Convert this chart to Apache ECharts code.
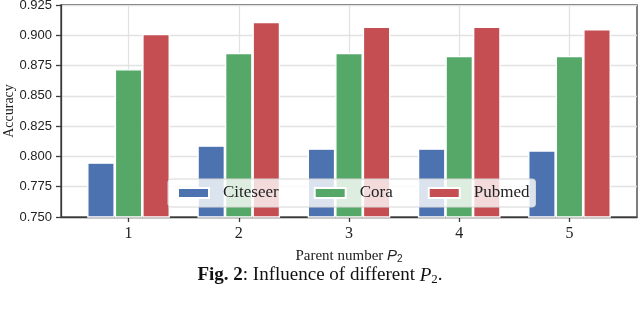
<!DOCTYPE html>
<html>
<head>
<meta charset="utf-8">
<script src="https://cdn.jsdelivr.net/npm/echarts@6/dist/echarts.min.js"></script>
<style>
  html, body { margin: 0; padding: 0; background: #fff; }
  #chart { width: 640px; height: 326px; }
</style>
</head>
<body>
<div id="chart"></div>
<script>
// data
const groups = [1, 2, 3, 4, 5];
const citeseer = [0.795, 0.809, 0.8065, 0.8065, 0.805];
const cora = [0.872, 0.8855, 0.8855, 0.883, 0.883];
const pubmed = [0.901, 0.911, 0.907, 0.907, 0.905];
const yTicks = [0.750, 0.775, 0.800, 0.825, 0.850, 0.875, 0.900, 0.925];

// bar offset from the group centre, in x units
const offset = 0.25;
const serif = '"Liberation Serif", "DejaVu Serif", serif';
const sans = '"Liberation Sans", Arial, sans-serif';

const chart = echarts.init(document.getElementById('chart'), null, { renderer: 'canvas' });

function place(values, shift) {
  return values.map((v, i) => [groups[i] + shift, v]);
}

function barSeries(name, values, shift, color) {
  return {
    name,
    type: 'bar',
    data: place(values, shift),
    barWidth: 27.5,
    barGap: '-100%',
    itemStyle: { color, borderColor: '#fff', borderWidth: 1.3 },
    z: 2,
  };
}

chart.setOption({
  animation: false,
  backgroundColor: '#fff',
  grid: {
    left: 61, right: 3, top: 5, bottom: 109,
    outerBoundsMode: 'none',
    containLabel: false,
    show: true, borderColor: '#3a3a3a', borderWidth: 1.3,
  },
  legend: {
    left: 168, top: 179,
    padding: [5, 6, 5, 9],
    itemGap: 35,
    itemWidth: 31, itemHeight: 10,
    backgroundColor: 'rgba(255,255,255,0.8)',
    borderColor: '#d6d6d6', borderWidth: 1, borderRadius: 3,
    icon: 'rect',
    textStyle: { fontFamily: serif, fontSize: 17, color: '#222', padding: [0, 0, 0, 9], lineHeight: 18 },
    data: ['Citeseer', 'Cora', 'Pubmed'],
    z: 10,
  },
  xAxis: {
    type: 'value',
    min: 0.3875, max: 5.6125,
    name: '{a|Parent number }{i|P}{s|2}',
    nameLocation: 'middle',
    nameGap: 31,
    nameTextStyle: {
      rich: {
        a: { fontFamily: serif, fontSize: 15, color: '#222' },
        i: { fontFamily: sans, fontStyle: 'italic', fontSize: 15, color: '#222' },
        s: { fontFamily: sans, fontSize: 10, color: '#222', verticalAlign: 'bottom', padding: [6, 0, 0, 0] },
      },
    },
    axisLine: { show: true, lineStyle: { color: '#3a3a3a', width: 1.3 } },
    axisTick: { show: true, length: 5, customValues: groups, lineStyle: { color: '#3a3a3a', width: 1.3 } },
    axisLabel: { customValues: groups, fontFamily: serif, fontSize: 16, color: '#222', margin: 9 },
    splitLine: { show: true, lineStyle: { color: '#e2e2e2', width: 1.3 } },
  },
  yAxis: {
    type: 'value',
    min: yTicks[0], max: yTicks[yTicks.length - 1], interval: 0.025,
    name: 'Accuracy',
    nameLocation: 'middle',
    nameGap: 45,
    nameMoveOverlap: false,
    nameTextStyle: { fontFamily: serif, fontSize: 14, color: '#222' },
    axisLine: { show: true, lineStyle: { color: '#3a3a3a', width: 1.3 } },
    axisTick: { show: true, length: 5, lineStyle: { color: '#3a3a3a', width: 1.3 } },
    axisLabel: { fontFamily: sans, fontSize: 13, color: '#222', margin: 9, formatter: v => v.toFixed(3) },
    splitLine: { show: true, lineStyle: { color: '#e2e2e2', width: 1.3 } },
  },
  series: [
    barSeries('Citeseer', citeseer, -offset, '#4c72b0'),
    barSeries('Cora', cora, 0, '#55a868'),
    barSeries('Pubmed', pubmed, offset, '#c44e52'),
  ],
  graphic: [{
    type: 'text',
    left: 'center',
    top: 266,
    style: {
      text: '{b|Fig. 2}{r|: Influence of different }{i|P}{s|2}{r|.}',
      rich: {
        b: { fontFamily: serif, fontWeight: 'bold', fontSize: 19, fill: '#111' },
        r: { fontFamily: serif, fontSize: 19, fill: '#111' },
        i: { fontFamily: serif, fontStyle: 'italic', fontSize: 19, fill: '#111' },
        s: { fontFamily: serif, fontSize: 13, fill: '#111', verticalAlign: 'bottom', padding: [8, 0, 0, 0] },
      },
    },
  }],
});

window.addEventListener('resize', () => chart.resize());
</script>
</body>
</html>
